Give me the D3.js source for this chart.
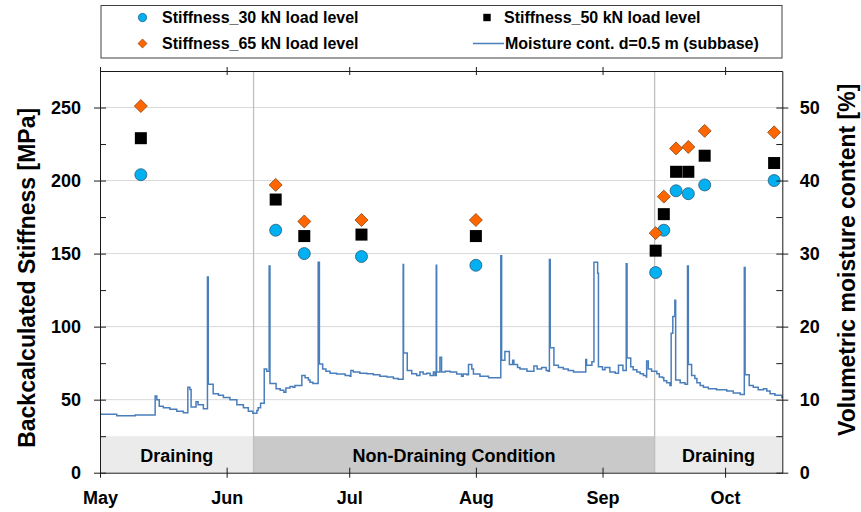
<!DOCTYPE html>
<html>
<head>
<meta charset="utf-8">
<script src="https://cdn.jsdelivr.net/npm/d3@7"></script>
<style>
  body { margin: 0; background: #fff; }
  svg text { font-family: "Liberation Sans", Arial, sans-serif; }
</style>
</head>
<body>
<svg id="chart" width="861" height="512"></svg>
<script>
// ---- data -------------------------------------------------------------
const seriesStart = "2016-05-01";
const seriesEnd = "2016-10-15";

// FWD test dates and backcalculated stiffness [MPa] per load level
const testDates = ["2016-05-11", "2016-06-13", "2016-06-20", "2016-07-04", "2016-08-01",
  "2016-09-14", "2016-09-16", "2016-09-19", "2016-09-22", "2016-09-26", "2016-10-13"];
const stiffness30 = [204, 166, 150, 148, 142, 137, 166, 193, 191, 197, 200];
const stiffness50 = [229, 187, 162, 163, 162, 152, 177, 206, 206, 217, 212];
const stiffness65 = [251, 197, 172, 173, 173, 164, 189, 222, 223, 234, 233];

// Volumetric moisture content [%] at 0.5 m depth: [days after May 1, value]
const moisture = [
  [0.0, 8.0], [4.1, 7.8], [8.6, 7.9], [13.5, 10.5], [13.9, 10.0], [14.5, 9.1], [15.5, 8.9],
  [17.1, 8.7], [18.8, 8.4], [20.4, 8.2], [21.5, 11.7], [22.0, 11.4], [22.3, 9.0], [23.5, 9.7],
  [24.0, 9.3], [25.3, 8.75], [26.3, 26.8], [26.5, 12.1], [27.7, 10.8], [29.0, 10.6], [30.2, 10.3],
  [31.8, 10.0], [33.5, 9.3], [35.1, 8.9], [36.3, 8.4], [37.4, 8.15], [38.4, 8.5], [38.7, 8.9],
  [39.3, 9.5], [40.2, 14.2], [40.8, 13.9], [41.4, 28.3], [41.6, 12.2], [43.1, 11.5], [44.1, 11.3],
  [45.0, 11.0], [45.5, 11.6], [46.5, 11.8], [47.2, 11.7], [47.7, 11.95], [49.4, 13.3], [50.2, 13.0],
  [51.0, 12.7], [51.4, 12.4], [52.1, 12.2], [53.4, 28.8], [53.7, 14.9], [54.5, 14.2], [55.3, 13.9],
  [56.3, 13.6], [57.9, 13.5], [60.0, 13.3], [61.2, 13.2], [61.4, 14.0], [62.0, 13.8], [63.6, 13.6],
  [65.3, 13.55], [66.9, 13.4], [68.5, 13.2], [70.2, 13.1], [71.8, 12.9], [73.0, 12.8], [74.2, 28.5],
  [74.3, 16.4], [75.2, 14.0], [76.3, 13.55], [77.5, 13.3], [78.3, 13.8], [79.1, 13.5], [80.0, 13.6],
  [80.8, 13.3], [81.6, 13.8], [82.0, 13.3], [82.3, 28.4], [82.4, 13.8], [83.2, 15.8], [83.6, 13.8],
  [84.5, 13.9], [85.7, 13.8], [87.3, 13.5], [88.5, 13.2], [88.9, 13.5], [89.8, 13.4], [90.2, 14.8],
  [91.0, 14.2], [91.4, 13.5], [93.0, 13.2], [95.1, 13.0], [98.1, 29.7], [98.3, 15.4], [99.1, 16.6],
  [100.2, 14.8], [101.0, 15.4], [101.3, 14.8], [102.2, 14.4], [102.8, 14.2], [104.5, 13.9],
  [106.2, 14.6], [107.0, 14.2], [108.1, 14.4], [109.2, 14.0], [109.7, 13.9], [110.0, 29.2],
  [110.2, 17.1], [111.1, 14.7], [112.2, 14.4], [113.4, 14.2], [114.6, 14.0], [115.9, 13.8],
  [118.9, 15.5], [119.1, 14.7], [120.4, 15.2], [120.9, 28.8], [121.8, 27.3], [122.0, 14.5],
  [123.0, 14.1], [123.6, 14.4], [124.8, 13.8], [126.1, 13.6], [126.9, 14.7], [128.0, 14.0],
  [128.8, 28.6], [129.0, 15.7], [129.9, 14.5], [130.5, 14.1], [131.4, 13.8], [132.2, 13.55],
  [133.0, 13.3], [133.7, 13.1], [133.8, 15.3], [134.2, 14.2], [135.0, 13.9], [136.3, 13.55],
  [136.9, 13.1], [137.7, 13.0], [138.0, 12.6], [138.7, 12.3], [139.5, 11.95], [139.8, 19.1],
  [140.2, 21.4], [140.7, 23.6], [140.9, 12.7], [142.0, 12.3], [143.2, 12.1], [143.8, 28.3],
  [144.0, 14.8], [144.8, 13.3], [145.6, 12.9], [146.1, 12.3], [146.9, 11.95], [147.7, 11.7],
  [148.9, 11.5], [150.9, 11.35], [153.4, 11.2], [155.0, 10.9], [156.7, 10.7], [157.7, 28.1],
  [157.9, 13.4], [158.9, 11.95], [159.9, 11.7], [161.1, 11.35], [162.4, 11.5], [163.2, 11.2],
  [164.0, 10.8], [165.2, 10.6], [166.9, 10.3], [167.0, 10.2]
];

// Drainage phases of the test section
const phaseLabels = ["Draining", "Non-Draining Condition", "Draining"];
const phaseBounds = ["2016-05-01", "2016-06-07T14:00", "2016-09-13T18:00", "2016-10-15"];

const stiffnessTicks = [0, 50, 100, 150, 200, 250];
const stiffnessMinorTicks = [25, 75, 125, 175, 225];
const moistureTicks = [0, 10, 20, 30, 40, 50];
const moistureMinorTicks = [5, 15, 25, 35, 45];
const legendLabels = ["Stiffness_30 kN load level", "Stiffness_50 kN load level",
  "Stiffness_65 kN load level", "Moisture cont. d=0.5 m (subbase)"];

// ---- layout -----------------------------------------------------------
const svg = d3.select("#chart");
const plot = { left: 100, right: 782.3, top: 71, bottom: 472.7 };
const axisColor = "#1a1a1a";

const parse = s => new Date(s.length > 10 ? s + "Z" : s + "T00:00Z");
const t0 = parse(seriesStart);
const dayToDate = d => new Date(t0.getTime() + d * 864e5);

const x = d3.scaleUtc().domain([t0, parse(seriesEnd)]).range([plot.left, plot.right]);
const yL = d3.scaleLinear().domain([0, 275]).range([plot.bottom, plot.top]);
const yR = d3.scaleLinear().domain([0, 55]).range([plot.bottom, plot.top]);

// gridlines
svg.append("g").selectAll("line").data(stiffnessTicks.filter(v => v > 0)).join("line")
  .attr("x1", plot.left).attr("x2", plot.right)
  .attr("y1", d => yL(d)).attr("y2", d => yL(d))
  .attr("stroke", "#d9d9d9").attr("stroke-width", 1);

// phase band along the bottom
const phaseFill = ["#ebebeb", "#c9c9c9", "#ebebeb"];
const phases = phaseLabels.map((label, i) => ({
  label, from: parse(phaseBounds[i]), to: parse(phaseBounds[i + 1]), fill: phaseFill[i]
}));
const band = svg.append("g");
band.selectAll("rect").data(phases).join("rect")
  .attr("x", d => x(d.from)).attr("width", d => x(d.to) - x(d.from))
  .attr("y", yL(25)).attr("height", yL(0) - yL(25))
  .attr("fill", d => d.fill);
band.selectAll("text").data(phases).join("text")
  .attr("x", d => (x(d.from) + x(d.to)) / 2)
  .attr("y", (yL(0) + yL(25)) / 2 + 1)
  .attr("text-anchor", "middle").attr("dy", "0.35em")
  .attr("font-size", 18).attr("font-weight", "bold").attr("fill", "#000")
  .text(d => d.label);

// phase dividers
svg.append("g").selectAll("line").data(phaseBounds.slice(1, -1)).join("line")
  .attr("x1", d => x(parse(d))).attr("x2", d => x(parse(d)))
  .attr("y1", plot.top).attr("y2", plot.bottom)
  .attr("stroke", "#bfbfbf").attr("stroke-width", 1.3);

// moisture line
const line = d3.line()
  .x(d => x(dayToDate(d[0])))
  .y(d => yR(d[1]))
  .curve(d3.curveStepAfter);
svg.append("path").datum(moisture)
  .attr("d", line).attr("fill", "none")
  .attr("stroke", "#4a7ebb").attr("stroke-width", 1.5);

// stiffness markers
const pts = (vals) => testDates.map((d, i) => ({ date: parse(d), v: vals[i] }));
const marks = svg.append("g");
marks.selectAll("circle").data(pts(stiffness30)).join("circle")
  .attr("cx", d => x(d.date)).attr("cy", d => yL(d.v)).attr("r", 6)
  .attr("fill", "#00b0f0").attr("stroke", "#2a5a78").attr("stroke-width", 0.8);
marks.selectAll("rect").data(pts(stiffness50)).join("rect")
  .attr("x", d => x(d.date) - 6).attr("y", d => yL(d.v) - 6)
  .attr("width", 12).attr("height", 12).attr("fill", "#000");
const diamond = d3.symbol().type(d3.symbolSquare).size(84);
marks.selectAll("path").data(pts(stiffness65)).join("path")
  .attr("d", diamond)
  .attr("transform", d => `translate(${x(d.date)},${yL(d.v)}) rotate(45)`)
  .attr("fill", "#ff6600").attr("stroke", "#8a4a1a").attr("stroke-width", 0.8);

// ---- axes -------------------------------------------------------------
function styleAxis(g) {
  g.select(".domain").attr("stroke", axisColor).attr("stroke-width", 1);
  g.selectAll(".tick line").attr("stroke", axisColor);
  g.selectAll(".tick text").attr("font-size", 18).attr("font-weight", "bold")
    .attr("fill", "#000").attr("font-family", null);
}

const months = d3.utcMonth.every(1);

// bottom
const gx = svg.append("g").attr("transform", `translate(0,${plot.bottom})`)
  .call(d3.axisBottom(x).ticks(months).tickFormat(d3.utcFormat("%b"))
    .tickSizeInner(5).tickSizeOuter(0).tickPadding(13.5));
gx.selectAll(".tick line").attr("y1", -5);
styleAxis(gx);

// top border with month ticks
const gt = svg.append("g").attr("transform", `translate(0,${plot.top})`)
  .call(d3.axisTop(x).ticks(months).tickFormat("").tickSizeInner(4).tickSizeOuter(0));
gt.selectAll(".tick line").attr("y1", 4);
styleAxis(gt);

// left
const gl = svg.append("g").attr("transform", `translate(${plot.left},0)`)
  .call(d3.axisLeft(yL).tickValues(stiffnessTicks).tickSizeInner(6).tickSizeOuter(0).tickPadding(13));
gl.selectAll(".tick line").attr("x1", 6);
styleAxis(gl);
const glm = svg.append("g").attr("transform", `translate(${plot.left},0)`)
  .call(d3.axisLeft(yL).tickValues(stiffnessMinorTicks).tickFormat("").tickSizeInner(-6).tickSizeOuter(0));
glm.select(".domain").remove();
glm.selectAll(".tick line").attr("stroke", axisColor);

// right
const gr = svg.append("g").attr("transform", `translate(${plot.right},0)`)
  .call(d3.axisRight(yR).tickValues(moistureTicks).tickSizeInner(6).tickSizeOuter(0).tickPadding(11.5));
gr.selectAll(".tick line").attr("x1", -6);
styleAxis(gr);
const grm = svg.append("g").attr("transform", `translate(${plot.right},0)`)
  .call(d3.axisRight(yR).tickValues(moistureMinorTicks).tickFormat("").tickSizeInner(-6).tickSizeOuter(0));
grm.select(".domain").remove();
grm.selectAll(".tick line").attr("stroke", axisColor);

// axis titles
const midY = (plot.top + plot.bottom) / 2;
svg.append("text")
  .attr("transform", `translate(27,${midY + 6}) rotate(-90)`)
  .attr("text-anchor", "middle").attr("dy", "0.35em")
  .attr("font-size", 23).attr("font-weight", "bold").attr("fill", "#000")
  .text("Backcalculated Stiffness [MPa]");
svg.append("text")
  .attr("transform", `translate(847,${midY - 12}) rotate(-90)`)
  .attr("text-anchor", "middle").attr("dy", "0.35em")
  .attr("font-size", 23).attr("font-weight", "bold").attr("fill", "#000")
  .text("Volumetric moisture content [%]");

// ---- legend -----------------------------------------------------------
const lg = svg.append("g");
lg.append("rect").attr("x", 101).attr("y", 5.5).attr("width", 681).attr("height", 52.5)
  .attr("fill", "#fff").attr("stroke", "#404040").attr("stroke-width", 1);
const row1 = 17.5, row2 = 43.5, colA = 142.5, colB = 487;
lg.append("circle").attr("cx", colA).attr("cy", row1).attr("r", 4.2)
  .attr("fill", "#00b0f0").attr("stroke", "#2a5a78").attr("stroke-width", 0.7);
lg.append("rect").attr("x", colB - 3.7).attr("y", row1 - 3.7).attr("width", 7.4).attr("height", 7.4)
  .attr("fill", "#000");
lg.append("path").attr("d", d3.symbol().type(d3.symbolSquare).size(40))
  .attr("transform", `translate(${colA},${row2}) rotate(45)`)
  .attr("fill", "#ff6600").attr("stroke", "#8a4a1a").attr("stroke-width", 0.7);
lg.append("line").attr("x1", 473).attr("x2", 504).attr("y1", row2).attr("y2", row2)
  .attr("stroke", "#4a7ebb").attr("stroke-width", 1.5);
const legendPos = [[162, row1], [504, row1], [162, row2], [505, row2]];
lg.selectAll("text.lab").data(legendLabels).join("text").attr("class", "lab")
  .attr("x", (d, i) => legendPos[i][0]).attr("y", (d, i) => legendPos[i][1])
  .attr("dy", "0.35em").attr("font-size", 16).attr("font-weight", "bold").attr("fill", "#000")
  .text(d => d);
</script>
</body>
</html>
